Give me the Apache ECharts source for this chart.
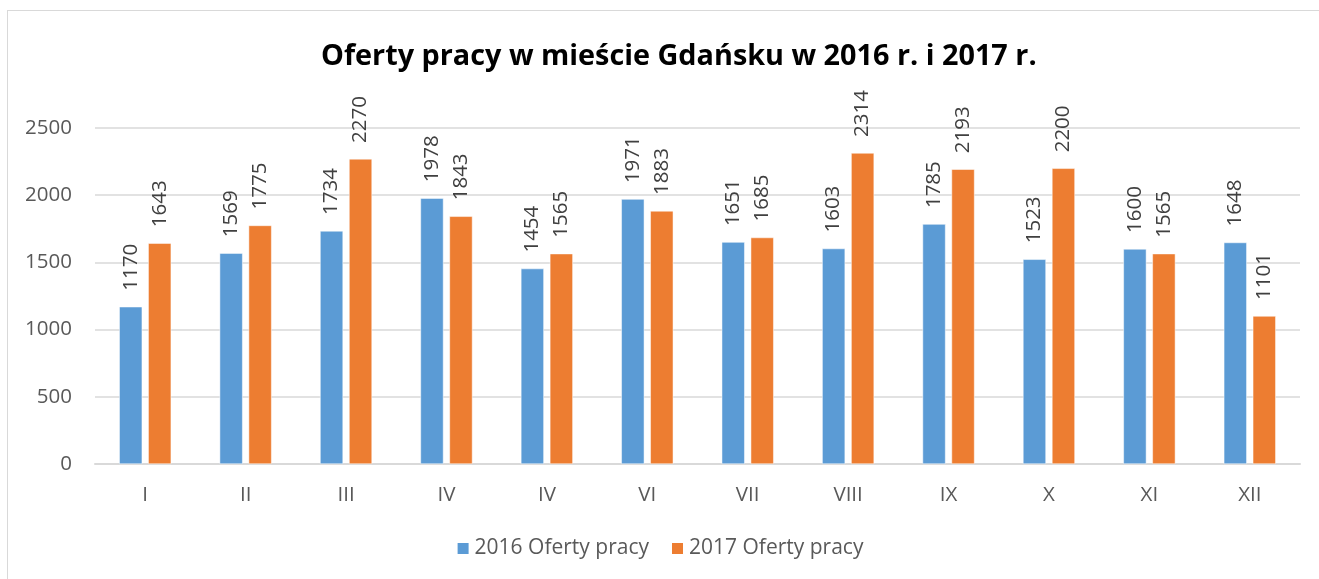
<!DOCTYPE html>
<html>
<head>
<meta charset="utf-8">
<script src="https://cdn.jsdelivr.net/npm/echarts@6/dist/echarts.min.js"></script>
<style>
  html, body { margin: 0; padding: 0; background: #fff; }
  #frame { position: absolute; left: 7px; top: 10px; width: 1330px; height: 600px;
           border-left: 1px solid #d9d9d9; border-top: 1px solid #d9d9d9; }
  #chart { position: absolute; left: 0; top: 0; width: 1319px; height: 579px; }
</style>
</head>
<body>
<div id="frame"></div>
<div id="chart"></div>
<script>
// miesiące (w oryginale piąty miesiąc podpisany "IV")
var months = ["I", "II", "III", "IV", "IV", "VI", "VII", "VIII", "IX", "X", "XI", "XII"];
var offers2016 = [1170, 1569, 1734, 1978, 1454, 1971, 1651, 1603, 1785, 1523, 1600, 1648];
var offers2017 = [1643, 1775, 2270, 1843, 1565, 1883, 1685, 2314, 2193, 2200, 1565, 1101];
var yTicks = [0, 500, 1000, 1500, 2000, 2500];

var font = "'Open Sans', 'Noto Sans', sans-serif";

var myChart = echarts.init(document.getElementById("chart"));

function barLabel() {
    return {
        show: true,
        position: "top",
        rotate: 90,
        align: "left",
        verticalAlign: "middle",
        distance: 16,
        color: "#404040",
        fontSize: 20.5,
        fontFamily: font
    };
}

var option = {
    animation: false,
    title: {
        text: "Oferty pracy w mieście Gdańsku w 2016 r. i 2017 r.",
        left: 316,
        top: 37,
        textStyle: { fontFamily: font, fontSize: 28.8, fontWeight: "bold", color: "#000" }
    },
    legend: {
        bottom: 15,
        left: "center",
        itemWidth: 13,
        itemHeight: 13,
        itemGap: 21,
        icon: "rect",
        textStyle: { fontFamily: font, fontSize: 21, color: "#595959" }
    },
    grid: { left: 95, right: 19, top: 128, bottom: 115 },
    xAxis: {
        type: "category",
        data: months,
        axisLine: { lineStyle: { color: "#d9d9d9", width: 2 } },
        axisTick: { show: false },
        axisLabel: { color: "#595959", fontSize: 20.5, fontFamily: font, margin: 21 }
    },
    yAxis: {
        type: "value",
        min: yTicks[0],
        max: yTicks[yTicks.length - 1],
        interval: 500,
        axisLine: { show: false },
        axisTick: { show: false },
        splitLine: { lineStyle: { color: "#d9d9d9", width: 1.5 } },
        axisLabel: {
            color: "#595959", fontSize: 20.5, fontFamily: font, margin: 23,
            formatter: function (v) { return String(v); }
        }
    },
    series: [{
        name: "2016 Oferty pracy",
        type: "bar",
        data: offers2016,
        barWidth: 23,
        barGap: "26%",
        itemStyle: { color: "#5b9bd5", borderColor: "#fff", borderWidth: 0.5 },
        label: barLabel()
    }, {
        name: "2017 Oferty pracy",
        type: "bar",
        data: offers2017,
        barWidth: 23,
        itemStyle: { color: "#ed7d31", borderColor: "#fff", borderWidth: 0.5 },
        label: barLabel()
    }]
};

myChart.setOption(option);
</script>
</body>
</html>
